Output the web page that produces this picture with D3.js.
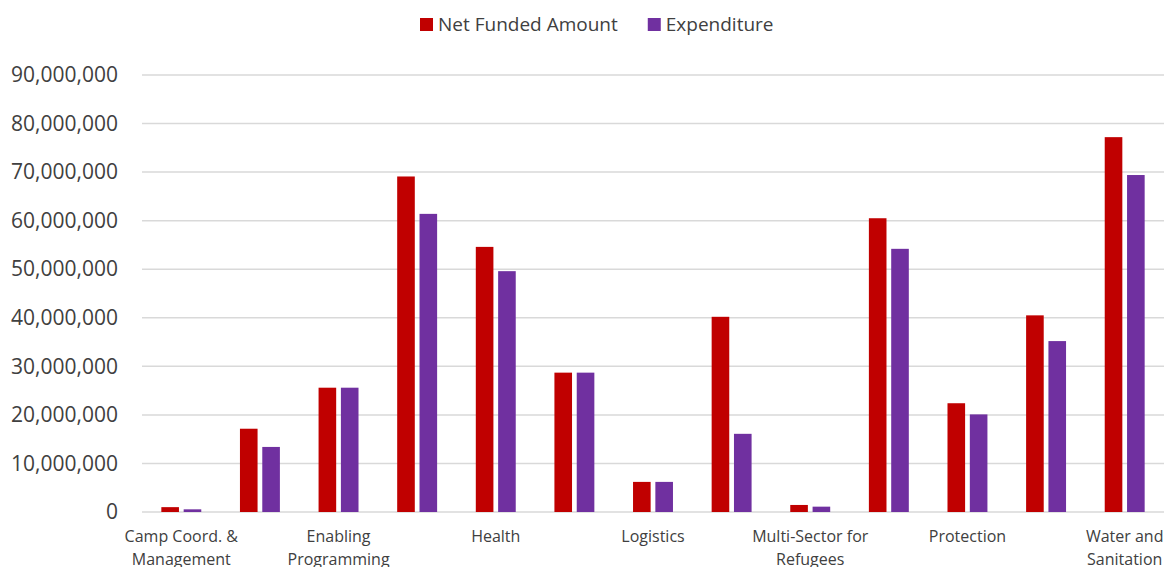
<!DOCTYPE html>
<html>
<head>
<meta charset="utf-8">
<script src="https://cdn.jsdelivr.net/npm/d3@7"></script>
<style>
  body { margin: 0; background: #fff; }
  text { font-family: "Open Sans", sans-serif; fill: #404040; }
</style>
</head>
<body>
<svg id="chart" width="1164" height="567"></svg>
<script>
// sectors (Excel only prints every other label)
const categories = [
  "Camp Coord. & Management", "Education", "Enabling Programming", "Food Security",
  "Health", "Livelihoods", "Logistics", "Multi-Purpose Cash",
  "Multi-Sector for Refugees", "Nutrition", "Protection", "Shelter and NFI",
  "Water and Sanitation"
];
const netFunded = [1000000, 17150000, 25600000, 69100000, 54600000, 28700000, 6200000,
  40200000, 1450000, 60500000, 22400000, 40500000, 77200000];
const expenditure = [550000, 13400000, 25600000, 61400000, 49600000, 28700000, 6200000,
  16100000, 1100000, 54200000, 20100000, 35200000, 69400000];
const seriesNames = ["Net Funded Amount", "Expenditure"];
const colors = ["#C00000", "#7030A0"];
const yTicks = [0, 10000000, 20000000, 30000000, 40000000, 50000000, 60000000, 70000000, 80000000, 90000000];

const svg = d3.select("#chart");
const margin = {left: 142, right: 0, top: 75, bottom: 55};
const width = 1164 - margin.left - margin.right;
const height = 567 - margin.top - margin.bottom;

const g = svg.append("g").attr("transform", "translate(" + margin.left + "," + margin.top + ")");

const x = d3.scaleBand().domain(categories).range([0, width]);
const bw = x.bandwidth() * 0.224;
const gap = x.bandwidth() * 0.06;
const y = d3.scaleLinear().domain([0, 90000000]).range([height, 0]);

// gridlines
g.append("g")
  .selectAll("line")
  .data(yTicks)
  .enter().append("line")
  .attr("x1", 0).attr("x2", width)
  .attr("y1", d => y(d)).attr("y2", d => y(d))
  .attr("stroke", "#d9d9d9")
  .attr("stroke-width", 1.5);

// y axis labels
const yAxis = g.append("g")
  .call(d3.axisLeft(y).tickValues(yTicks).tickFormat(d3.format(",")).tickSize(0).tickPadding(24));
yAxis.select(".domain").remove();
yAxis.selectAll("text")
  .style("font-size", "21px")
  .attr("fill", "#404040");

// bars
const series = [netFunded, expenditure];
series.forEach(function(vals, si) {
  g.append("g")
    .selectAll("rect")
    .data(categories)
    .enter().append("rect")
    .attr("x", (d, i) => x(d) + x.bandwidth() / 2 + (si == 0 ? -gap / 2 - bw : gap / 2))
    .attr("width", bw)
    .attr("y", (d, i) => y(vals[i]))
    .attr("height", (d, i) => y(0) - y(vals[i]))
    .attr("fill", colors[si]);
});

// x axis labels, every other category, wrapped
const xAxis = g.append("g")
  .attr("transform", "translate(0," + height + ")")
  .call(d3.axisBottom(x).tickValues(categories.filter((d, i) => i % 2 == 0)).tickSize(0).tickPadding(0));
xAxis.select(".domain").remove();
xAxis.selectAll("text")
  .style("font-size", "16px")
  .attr("fill", "#404040")
  .attr("dy", 0)
  .attr("y", 0)
  .each(function(d) {
    const t = d3.select(this);
    const words = d.split(" ");
    t.text(null);
    let line = [];
    let lines = [];
    let tspan = t.append("tspan");
    words.forEach(function(w) {
      line.push(w);
      tspan.text(line.join(" "));
      if (tspan.node().getComputedTextLength() > 140 && line.length > 1) {
        line.pop();
        lines.push(line.join(" "));
        line = [w];
        tspan.text(w);
      }
    });
    lines.push(line.join(" "));
    t.text(null);
    lines.forEach(function(l, li) {
      t.append("tspan").attr("x", 0).attr("y", 30 + li * 23).text(l);
    });
  });

// legend
const legend = svg.append("g");
let lx = 420;
seriesNames.forEach(function(name, i) {
  legend.append("rect")
    .attr("x", lx).attr("y", 18)
    .attr("width", 13).attr("height", 13)
    .attr("fill", colors[i]);
  const txt = legend.append("text")
    .attr("x", lx + 18).attr("y", 31)
    .style("font-size", "19px")
    .text(name);
  lx += 18 + txt.node().getComputedTextLength() + 30;
});
</script>
</body>
</html>
